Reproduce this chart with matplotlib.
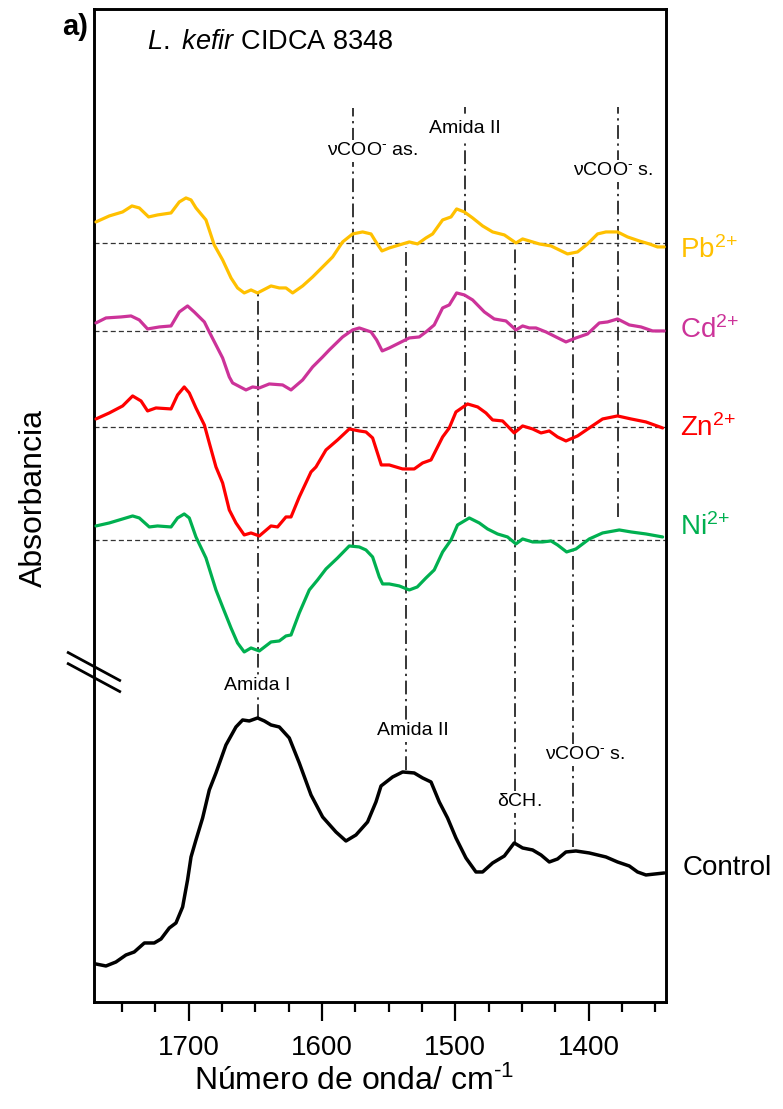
import matplotlib
matplotlib.use("Agg")
import matplotlib.pyplot as plt
from matplotlib.lines import Line2D
from matplotlib.transforms import offset_copy

plt.rcParams['font.family'] = ['Liberation Sans', 'DejaVu Sans']
plt.rcParams['mathtext.fontset'] = 'custom'
plt.rcParams['mathtext.rm'] = 'Liberation Sans'
plt.rcParams['mathtext.it'] = 'Liberation Sans:italic'
plt.rcParams['mathtext.bf'] = 'Liberation Sans:bold'
plt.rcParams['mathtext.default'] = 'regular'

# ---- FTIR spectra (wavenumber in cm-1, absorbance in a.u., stacked with offsets) ----
wn_pb = [1769.5, 1759.5, 1749.5, 1742.5, 1737, 1730, 1723.3, 1713.2, 1707, 1702, 1698.2,
         1694.5, 1687, 1680.8, 1674.5, 1668.2, 1663.3, 1658.3, 1653.2, 1648.3, 1638.2, 1632,
         1627, 1622, 1614.5, 1607, 1599.5, 1592, 1584.5, 1577, 1569.5, 1563.2, 1559.5, 1555,
         1549.5, 1542, 1534.5, 1528.3, 1522, 1517, 1509.5, 1503.2, 1499, 1493.2, 1487, 1479.5,
         1472, 1463.2, 1454.5, 1449.5, 1444.5, 1437, 1428.2, 1422, 1415.8, 1408.3, 1400.8,
         1393.3, 1387, 1378.3, 1370.8, 1362, 1354.5, 1348.3, 1343.3]
ab_pb = [0.780, 0.786, 0.790, 0.796, 0.794, 0.785, 0.787, 0.789, 0.800, 0.804, 0.802,
         0.794, 0.782, 0.757, 0.742, 0.724, 0.714, 0.709, 0.712, 0.709, 0.716, 0.714,
         0.714, 0.709, 0.716, 0.725, 0.735, 0.745, 0.760, 0.768, 0.770, 0.768, 0.760, 0.751,
         0.754, 0.757, 0.760, 0.758, 0.764, 0.768, 0.782, 0.785, 0.793, 0.790, 0.784, 0.776,
         0.770, 0.767, 0.759, 0.763, 0.761, 0.758, 0.756, 0.752, 0.748, 0.750, 0.758,
         0.768, 0.770, 0.770, 0.765, 0.761, 0.758, 0.755, 0.755]

wn_cd = [1769.5, 1762, 1750.7, 1743.2, 1737, 1730.8, 1722, 1713.2, 1707, 1700.8, 1695.8,
         1688.2, 1684.5, 1679.5, 1674.5, 1669.5, 1667, 1657, 1652, 1647, 1639.5, 1629.5,
         1623.2, 1614.5, 1607, 1599.5, 1594.5, 1584.5, 1577, 1572, 1563.2, 1559, 1554.8,
         1549.5, 1542, 1534.5, 1527, 1522, 1515.8, 1509.5, 1504.5, 1499, 1493.2, 1487,
         1478.2, 1470.8, 1462, 1454.5, 1449.5, 1444.5, 1439.5, 1432, 1424.5, 1417, 1409.5,
         1400.8, 1392, 1385.8, 1378.3, 1369.5, 1360.7, 1352, 1343.3]
ab_cd = [0.679, 0.684, 0.685, 0.686, 0.682, 0.673, 0.675, 0.676, 0.690, 0.696, 0.690,
         0.680, 0.670, 0.657, 0.644, 0.625, 0.619, 0.612, 0.615, 0.614, 0.618, 0.617,
         0.612, 0.622, 0.635, 0.645, 0.652, 0.665, 0.672, 0.674, 0.670, 0.662, 0.651,
         0.654, 0.659, 0.664, 0.665, 0.670, 0.677, 0.694, 0.697, 0.709, 0.707, 0.702,
         0.690, 0.683, 0.681, 0.672, 0.676, 0.674, 0.674, 0.670, 0.665, 0.660, 0.664,
         0.668, 0.679, 0.680, 0.683, 0.677, 0.675, 0.671, 0.671]

wn_zn = [1769.5, 1759.5, 1749.5, 1742, 1735.7, 1730.8, 1724.5, 1713.2, 1708.3, 1703.3, 1699.5,
         1694.5, 1688.2, 1684.5, 1679.5, 1674.5, 1669.5, 1664.5, 1658.3, 1653.2, 1647, 1638.2,
         1633.3, 1627, 1623.2, 1617, 1608.2, 1604.5, 1597, 1588.3, 1579.5, 1572, 1567, 1562,
         1555.5, 1549.5, 1539.5, 1530.8, 1524.5, 1518.2, 1509.5, 1504.5, 1499.5, 1490.8,
         1483.2, 1477, 1472, 1464.5, 1455.8, 1449.5, 1442, 1435.7, 1429.5, 1423.3, 1417,
         1408.3, 1399.5, 1389.5, 1378.3, 1368.2, 1357, 1344.5]
ab_zn = [0.583, 0.589, 0.596, 0.606, 0.601, 0.591, 0.594, 0.593, 0.607, 0.615, 0.609,
         0.594, 0.577, 0.559, 0.535, 0.519, 0.492, 0.479, 0.467, 0.469, 0.466, 0.476,
         0.475, 0.485, 0.485, 0.505, 0.530, 0.535, 0.552, 0.562, 0.573, 0.571, 0.570, 0.564,
         0.537, 0.537, 0.533, 0.533, 0.539, 0.542, 0.565, 0.574, 0.590, 0.598,
         0.595, 0.589, 0.582, 0.581, 0.569, 0.576, 0.573, 0.569, 0.571, 0.565, 0.561,
         0.566, 0.574, 0.583, 0.586, 0.583, 0.580, 0.574]

wn_ni = [1769.5, 1759.5, 1749.5, 1742, 1737, 1729.5, 1723.3, 1713.2, 1708.3, 1703.3, 1699.5,
         1694.5, 1687, 1679.5, 1674.5, 1668.2, 1663.3, 1658.3, 1653.2, 1647, 1638.2, 1632,
         1627, 1623.2, 1617, 1609.5, 1603.3, 1597, 1588.3, 1579.5, 1572, 1567, 1562, 1557,
         1554.5, 1549.5, 1542, 1534.5, 1528.5, 1522, 1515.8, 1509.5, 1503.2, 1498.3, 1489.5,
         1482, 1475.8, 1468.3, 1460.8, 1454.5, 1449.5, 1442, 1434.5, 1428.2, 1423.3, 1416.5,
         1409.5, 1399.5, 1389.5, 1377, 1368.2, 1357, 1344.5]
ab_ni = [0.476, 0.479, 0.483, 0.486, 0.484, 0.475, 0.476, 0.475, 0.484, 0.488, 0.484,
         0.465, 0.444, 0.412, 0.395, 0.374, 0.359, 0.350, 0.354, 0.351, 0.360, 0.361,
         0.366, 0.367, 0.389, 0.412, 0.422, 0.433, 0.444, 0.456, 0.455, 0.452, 0.445, 0.425,
         0.418, 0.418, 0.416, 0.412, 0.415, 0.424, 0.432, 0.450, 0.462, 0.477, 0.484,
         0.479, 0.473, 0.468, 0.465, 0.458, 0.463, 0.460, 0.460, 0.461, 0.457, 0.450,
         0.453, 0.463, 0.469, 0.472, 0.470, 0.468, 0.465]

wn_ctrl = [1769.5, 1762, 1754.5, 1747, 1740.8, 1733.2, 1725.8, 1720.7, 1714.5, 1709.5, 1704.5,
           1700.8, 1698.2, 1694.5, 1689.5, 1684.5, 1679.5, 1672, 1664.5, 1659.5, 1654.5, 1648.3,
           1643.2, 1638.2, 1632, 1624.5, 1617, 1608.2, 1599.5, 1589.5, 1582, 1574.5, 1565.8,
           1559.5, 1555.7, 1547, 1539.5, 1530.8, 1524.5, 1518.2, 1512, 1505.8, 1499.5, 1492,
           1484.5, 1479.5, 1472, 1463.2, 1455.8, 1449.5, 1442, 1435.7, 1429.5, 1423.3, 1417,
           1409.5, 1399.5, 1387, 1378.3, 1369.5, 1363.3, 1357, 1343.3]
ab_ctrl = [0.038, 0.036, 0.040, 0.047, 0.050, 0.059, 0.059, 0.063, 0.074, 0.079, 0.095,
           0.122, 0.145, 0.162, 0.184, 0.212, 0.229, 0.257, 0.275, 0.282, 0.281, 0.284,
           0.281, 0.277, 0.275, 0.264, 0.239, 0.207, 0.185, 0.170, 0.161, 0.167, 0.180,
           0.200, 0.216, 0.225, 0.230, 0.229, 0.224, 0.220, 0.200, 0.184, 0.164, 0.144,
           0.130, 0.130, 0.139, 0.146, 0.159, 0.154, 0.152, 0.147, 0.140, 0.143, 0.150,
           0.151, 0.149, 0.145, 0.140, 0.136, 0.130, 0.127, 0.129]

# offset baselines of the treated samples
series_names = ["Pb$^{2{+}}$", "Cd$^{2{+}}$", "Zn$^{2{+}}$", "Ni$^{2{+}}$"]
series_colors = ["#FFC000", "#CC3399", "#FF0000", "#00B050"]
baselines = [0.759, 0.671, 0.575, 0.462]
label_y = [0.752, 0.672, 0.574, 0.475]

# band assignments: wavenumber, line top, line bottom
band_wn = [1648, 1577, 1493, 1378, 1537, 1455, 1412]
band_top = [0.709, 0.894, 0.895, 0.895, 0.755, 0.757, 0.745]
band_bottom = [0.284, 0.457, 0.485, 0.485, 0.232, 0.159, 0.155]

band_text = ["Amida I", "$\\nu$COO$^{\u2010}$ as.", "Amida II", "$\\nu$COO$^{\u2010}$ s.",
             "Amida II", "$\\delta$CH.", "$\\nu$COO$^{\u2010}$ s."]
band_text_x = [1648.5, 1562, 1493, 1381.5, 1531.5, 1452, 1403]
band_text_y = [0.316, 0.851, 0.873, 0.831, 0.271, 0.200, 0.247]

fig = plt.figure(figsize=(7.83, 11.09), dpi=100)
ax = fig.add_axes([0.1200, 0.0965, 0.7305, 0.8950])

ax.set_xlim(1771, 1342)
ax.set_ylim(0, 0.9925)

# band marker lines
for w, t, b in zip(band_wn, band_top, band_bottom):
    ax.plot([w, w], [b, t], color="black", lw=1.1,
            linestyle=(0, (9, 3, 1.5, 3)), zorder=1)

# dashed baselines
for yb in baselines:
    ax.axhline(yb, color="#333333", lw=0.9, linestyle=(0, (4, 2.5)), zorder=1)

spectra = [(wn_pb, ab_pb), (wn_cd, ab_cd), (wn_zn, ab_zn), (wn_ni, ab_ni)]
for (w, a), c in zip(spectra, series_colors):
    ax.plot(w, a, color=c, lw=2.3, solid_joinstyle="round", solid_capstyle="round",
            zorder=3)
ax.plot(wn_ctrl, ab_ctrl, color="black", lw=2.5, solid_joinstyle="round",
        solid_capstyle="round", zorder=3)

# band labels
for txt, x, y in zip(band_text, band_text_x, band_text_y):
    ax.text(x, y, txt, ha="center", va="center", fontsize=14, zorder=4,
            bbox=dict(facecolor="white", edgecolor="none", pad=1.5))

# sample labels on the right
ytrans = ax.get_yaxis_transform()
for name, c, y in zip(series_names, series_colors, label_y):
    ax.text(1.0245, y, name, color=c, fontsize=20, ha="left", va="center",
            transform=ytrans, clip_on=False)
ax.text(1.030, 0.134, "Control", color="black", fontsize=20, ha="left", va="center",
        transform=ytrans, clip_on=False)

ax.text(0.092, 0.9676, "$\\it{L.}$ $\\it{kefir}$ CIDCA 8348", transform=ax.transAxes,
        fontsize=19.5, ha="left", va="center")
fig.text(0.079, 0.9757, "a)", fontsize=21, fontweight="bold", ha="left", va="center")

# axes styling
for s in ax.spines.values():
    s.set_linewidth(2.1)
ax.set_yticks([])
ax.set_xticks([1700, 1600, 1500, 1400])
ax.set_xticks([1750, 1725, 1675, 1650, 1625, 1575, 1550, 1525, 1475, 1450, 1425, 1375, 1350],
              minor=True)
ax.tick_params(axis="x", which="major", length=14, width=1.6, direction="out",
               labelsize=20, pad=10)
ax.tick_params(axis="x", which="minor", length=7.5, width=1.6, direction="out")

ax.set_xlabel("Número de onda/ cm$^{\u2010 1}$", fontsize=23)
ax.xaxis.set_label_coords(0.455, -0.064)
ax.set_ylabel("Absorbancia", fontsize=23)
ax.yaxis.set_label_coords(-0.078, 0.508)

# axis break marks on the left spine
for dy in (0.0, -8.0):
    tr = offset_copy(ax.transAxes, fig=fig, x=0, y=dy, units="points")
    brk = Line2D([-0.045, 0.045], [0.352, 0.324], transform=tr, color="black",
                 lw=2.0, clip_on=False)
    ax.add_line(brk)

fig.savefig("out.png", dpi=100)
